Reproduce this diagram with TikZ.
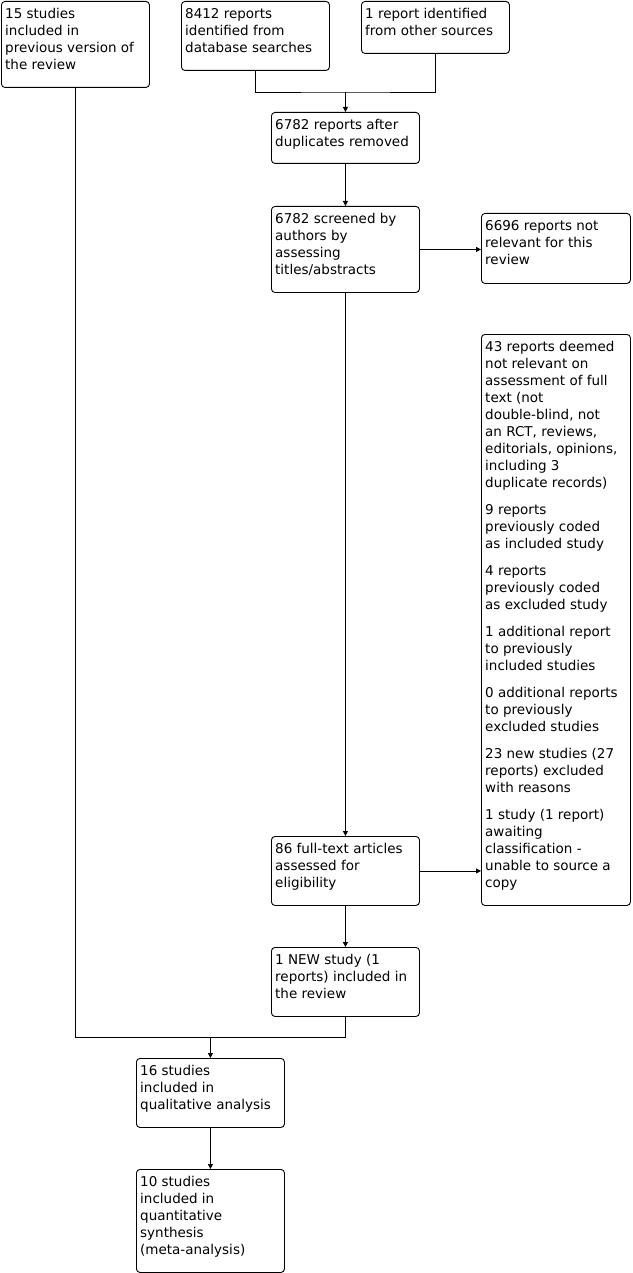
\documentclass[tikz,border=0pt]{standalone}
\usepackage{fontspec}
\setmainfont{DejaVu Sans}
\usetikzlibrary{arrows.meta}
\begin{document}
\begin{tikzpicture}[x=1pt,y=-1pt,
  box/.style={draw, rounded corners=3.5pt, line width=0.9pt, inner sep=0pt, anchor=north west},
  txt/.style={anchor=north west, inner sep=0pt, align=left, font=\fontsize{13.5}{17}\selectfont},
  arr/.style={-{Triangle[length=5pt,width=5pt]}, line width=0.9pt},
  ln/.style={line width=0.9pt}]
\useasboundingbox (0,0) rectangle (632,1273);
\newcommand{\fs}{\rule{0pt}{12.5pt}}
% boxes
\node[box, minimum width=148pt, minimum height=86pt] (A) at (1,1) {};
\node[box, minimum width=148pt, minimum height=69pt] (B) at (181,1) {};
\node[box, minimum width=148pt, minimum height=52pt] (C) at (361,1) {};
\node[box, minimum width=148pt, minimum height=51pt] (D) at (271,112) {};
\node[box, minimum width=148pt, minimum height=86pt] (E) at (271,206) {};
\node[box, minimum width=149pt, minimum height=70pt] (F) at (481,213) {};
\node[box, minimum width=149pt, minimum height=571pt] (G) at (481,334) {};
\node[box, minimum width=148pt, minimum height=69pt] (H) at (271,836) {};
\node[box, minimum width=148pt, minimum height=69pt] (I) at (271,947) {};
\node[box, minimum width=148pt, minimum height=69pt] (J) at (136,1058) {};
\node[box, minimum width=148pt, minimum height=103pt] (K) at (136,1169) {};
% texts
\node[txt] (At) at ([shift={(4,5)}]A.north west) {\fs 15 studies\\included in\\previous version of\\the review};
\node[txt] (Bt) at ([shift={(4,5)}]B.north west) {\fs 8412 reports\\identified from\\database searches};
\node[txt] (Ct) at ([shift={(4,5)}]C.north west) {\fs 1 report identified\\from other sources};
\node[txt] (Dt) at ([shift={(4,5)}]D.north west) {\fs 6782 reports after\\duplicates removed};
\node[txt] (Et) at ([shift={(4,5)}]E.north west) {\fs 6782 screened by\\authors by\\assessing\\titles/abstracts};
\node[txt] (Ft) at ([shift={(4,5)}]F.north west) {\fs 6696 reports not\\relevant for this\\review};
\node[txt] (Gt) at ([shift={(4,5)}]G.north west) {\fs 43 reports deemed\\not relevant on\\assessment of full\\text (not\\double-blind, not\\an RCT, reviews,\\editorials, opinions,\\including 3\\duplicate records)\\[10pt]9 reports\\previously coded\\as included study\\[10pt]4 reports\\previously coded\\as excluded study\\[10pt]1 additional report\\to previously\\included studies\\[10pt]0 additional reports\\to previously\\excluded studies\\[10pt]23 new studies (27\\reports) excluded\\with reasons\\[10pt]1 study (1 report)\\awaiting\\classification -\\unable to source a\\copy};
\node[txt] (Ht) at ([shift={(4,5)}]H.north west) {\fs 86 full-text articles\\assessed for\\eligibility};
\node[txt] (It) at ([shift={(4,5)}]I.north west) {\fs 1 NEW study (1\\reports) included in\\the review};
\node[txt] (Jt) at ([shift={(4,5)}]J.north west) {\fs 16 studies\\included in\\qualitative analysis};
\node[txt] (Kt) at ([shift={(4,5)}]K.north west) {\fs 10 studies\\included in\\quantitative\\synthesis\\(meta-analysis)};
% connectors
\coordinate (j1) at (D.north |- 0,92);
\draw[ln] (B.south) |- (j1) -| (C.south);
\draw[arr] (j1) -- (D.north);
\draw[arr] (D.south) -- (E.north);
\draw[arr] (E.east) -- (E.east -| F.west);
\draw[arr] (E.south) -- (H.north);
\draw[arr] (H.east) -- (H.east -| G.west);
\draw[arr] (H.south) -- (I.north);
\coordinate (j2) at (J.north |- 0,1037);
\draw[ln] (A.south) |- (j2) -| (I.south);
\draw[arr] (j2) -- (J.north);
\draw[arr] (J.south) -- (K.north);
\end{tikzpicture}
\end{document}
